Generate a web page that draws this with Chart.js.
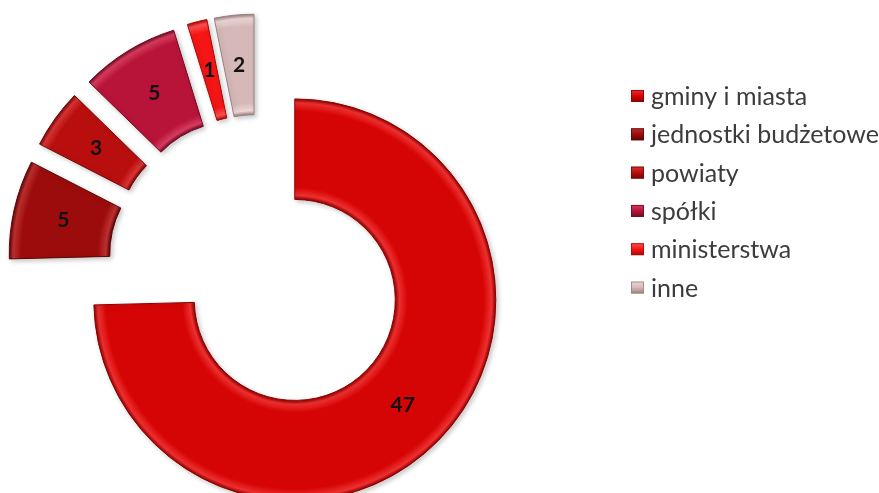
<!DOCTYPE html>
<html>
<head>
<meta charset="utf-8">
<script src="https://cdn.jsdelivr.net/npm/chart.js@4"></script>
<style>
  body { margin: 0; background: #ffffff; }
  canvas { display: block; }
</style>
</head>
<body>
<canvas id="donutChart" width="879" height="493"></canvas>
<script>
var _labels = ['gminy i miasta', 'jednostki budżetowe', 'powiaty', 'spółki', 'ministerstwa', 'inne'];
var _data = [47, 5, 3, 5, 1, 2];
var _colors = ['#d60505', '#9c0c0c', '#b90e0e', '#b81338', '#f51515', '#d6b8b8'];
var _dark = ['#8e0000', '#5e0404', '#740606', '#700a22', '#a80808', '#9c7f7f'];
var _light = ['#ee3030', '#bd3030', '#d83434', '#d63c5e', '#ff5050', '#ecd6d6'];

var EXPLODE = 50;   // px every slice is pulled out
var RADIUS = 201;
var CUTOUT = 0.5;
var myChart = null;

function total() {
  return _data.reduce(function(a, b) { return a + b; }, 0);
}

// angle (canvas radians) in the middle of slice i, chart starts at 12 o'clock
function midAngle(i) {
  var sum = 0;
  for (var k = 0; k < i; k++) sum += _data[k];
  return -Math.PI / 2 + (sum + _data[i] / 2) / total() * Math.PI * 2;
}

function sliceCenter(chart, i) {
  var area = chart.chartArea;
  var a = midAngle(i);
  return {
    x: (area.left + area.right) / 2 + Math.cos(a) * EXPLODE,
    y: (area.top + area.bottom) / 2 + Math.sin(a) * EXPLODE
  };
}

function sliceFill(ctx) {
  var i = ctx.dataIndex;
  if (!ctx.chart.chartArea) return _colors[i];
  var p = sliceCenter(ctx.chart, i);
  var r0 = RADIUS * CUTOUT;
  var g = ctx.chart.ctx.createRadialGradient(p.x, p.y, r0, p.x, p.y, RADIUS);
  g.addColorStop(0, _dark[i]);
  g.addColorStop(0.04, _light[i]);
  g.addColorStop(0.12, _colors[i]);
  g.addColorStop(0.88, _colors[i]);
  g.addColorStop(0.96, _light[i]);
  g.addColorStop(1, _dark[i]);
  return g;
}

//Plugins
// pull every arc out along its middle angle (exploded doughnut)
var explode = {
  id: 'explode',
  afterDatasetsUpdate: function(chart) {
    chart.getDatasetMeta(0).data.forEach(function(arc, i) {
      var p = sliceCenter(chart, i);
      arc.x = p.x;
      arc.y = p.y;
    });
  }
};

var shadowPlugin = {
  id: 'shadow',
  beforeDatasetsDraw: function(chart) {
    var c = chart.ctx;
    c.save();
    c.shadowColor = 'rgba(0,0,0,0.22)';
    c.shadowBlur = 5;
    c.shadowOffsetX = 2;
    c.shadowOffsetY = 2;
  },
  afterDatasetsDraw: function(chart) {
    chart.ctx.restore();
  }
};

var valueLabels = {
  id: 'valueLabels',
  afterDraw: function(chart) {
    var c = chart.ctx;
    var meta = chart.getDatasetMeta(0);
    c.save();
    c.font = 'bold 21px Lato';
    c.fillStyle = '#111111';
    c.textAlign = 'center';
    c.textBaseline = 'middle';
    meta.data.forEach(function(arc, i) {
      var a = (arc.startAngle + arc.endAngle) / 2;
      var r = (arc.innerRadius + arc.outerRadius) / 2;
      c.fillText(String(_data[i]), arc.x + Math.cos(a) * r, arc.y + Math.sin(a) * r);
    });
    c.restore();
  }
};

var sideLegend = {
  id: 'sideLegend',
  afterDraw: function(chart) {
    var c = chart.ctx;
    c.save();
    c.font = '25px Lato';
    c.textBaseline = 'middle';
    _labels.forEach(function(label, i) {
      var y = 96 + i * 38.3;
      var g = c.createLinearGradient(0, y - 6, 0, y + 6);
      g.addColorStop(0, _light[i]);
      g.addColorStop(0.5, _colors[i]);
      g.addColorStop(1, _dark[i]);
      c.fillStyle = g;
      c.fillRect(631, y - 6, 13, 12);
      c.strokeStyle = _dark[i];
      c.lineWidth = 0.8;
      c.strokeRect(631.5, y - 5.5, 12, 11);
      c.fillStyle = '#3c3c3c';
      c.fillText(label, 651, y + 1);
    });
    c.restore();
  }
};

function donutChart() {
  var ctx = document.getElementById('donutChart').getContext('2d');
  myChart = new Chart(ctx, {
    type: 'doughnut',
    data: {
      labels: _labels,
      datasets: [{
        data: _data,
        backgroundColor: sliceFill,
        borderColor: function(ctx) { return _dark[ctx.dataIndex]; },
        borderWidth: 1,
        clip: false
      }]
    },
    options: {
      responsive: false,
      animation: false,
      events: [],
      radius: RADIUS,
      cutout: (CUTOUT * 100) + '%',
      layout: {
        padding: { left: 0, top: 37, right: 361, bottom: 0 }
      },
      plugins: {
        legend: { display: false },
        tooltip: { enabled: false }
      }
    },
    plugins: [explode, shadowPlugin, valueLabels, sideLegend]
  });
}

// MAIN
donutChart();
</script>
</body>
</html>
